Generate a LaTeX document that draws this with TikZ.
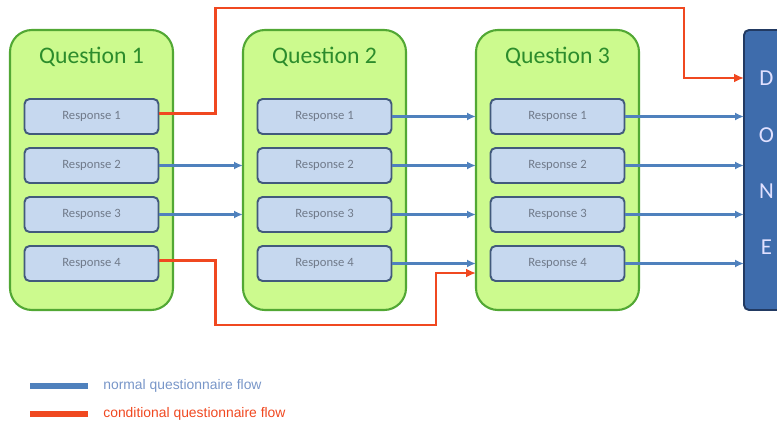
\documentclass[tikz,border=0pt]{standalone}
\usepackage{fontspec}
\setmainfont{Carlito}
\newfontfamily\keyfont{Liberation Sans}
\usetikzlibrary{arrows.meta,positioning}

\definecolor{qfill}{RGB}{204,250,142}
\definecolor{qborder}{RGB}{82,168,52}
\definecolor{qtext}{RGB}{44,140,44}
\definecolor{rfill}{RGB}{198,216,239}
\definecolor{rborder}{RGB}{66,90,124}
\definecolor{rtext}{RGB}{112,122,138}
\definecolor{flowblue}{RGB}{79,129,189}
\definecolor{keyblue}{RGB}{120,150,200}
\definecolor{condred}{RGB}{240,72,32}
\definecolor{donefill}{RGB}{62,108,172}
\definecolor{doneborder}{RGB}{34,58,98}

\begin{document}
\begin{tikzpicture}[
    node distance=0.28cm and 1.98cm,
    question/.style={draw=qborder, line width=1.2pt, fill=qfill, rounded corners=0.44cm,
      minimum width=3.26cm, minimum height=5.6cm, inner sep=0pt, outer sep=0pt},
    qtitle/.style={text=qtext, font=\fontsize{13.5}{15}\selectfont, inner sep=0pt},
    response/.style={draw=rborder, line width=1.1pt, fill=rfill, rounded corners=0.1cm,
      minimum width=2.68cm, minimum height=0.7cm, inner sep=0pt, outer sep=0pt,
      text=rtext, font=\fontsize{7.2}{8}\selectfont},
    donebox/.style={draw=doneborder, line width=1.1pt, fill=donefill, rounded corners=0.1cm,
      minimum width=0.9cm, minimum height=5.6cm, inner sep=0pt, outer sep=0pt},
    flow/.style={-{Latex[length=1.8mm,width=1.6mm]}, line width=1.5pt, draw=flowblue},
    cond/.style={-{Latex[length=2mm,width=1.8mm]}, line width=1.6pt, draw=condred},
    keybar/.style={line width=3.6pt},
    keytext/.style={font=\keyfont\fontsize{7.9}{9}\selectfont, inner sep=0pt, anchor=west}
  ]
    \useasboundingbox (0,0) rectangle (15.54,8.54);

    % question blocks
    \node[question] (q1) at (1.83,5.14) {};
    \node[question, right=1.4cm of q1] (q2) {};
    \node[question, right=1.4cm of q2] (q3) {};
    \node[donebox, right=2.1cm of q3] (done) {};
    \node[text=white!88!blue, font=\fontsize{13}{32}\selectfont, align=center]
      (donetext) at ([yshift=0.14cm]done.center) {D\\O\\N\\E};

    \node[qtitle] (q1title) at ([yshift=-0.54cm]q1.north) {Question 1};
    \node[qtitle] (q2title) at ([yshift=-0.54cm]q2.north) {Question 2};
    \node[qtitle] (q3title) at ([yshift=-0.54cm]q3.north) {Question 3};

    % responses
    \node[response, below=1.38cm of q1.north] (q1r1) {Response 1};
    \node[response, below=of q1r1] (q1r2) {Response 2};
    \node[response, below=of q1r2] (q1r3) {Response 3};
    \node[response, below=of q1r3] (q1r4) {Response 4};

    \node[response, right=of q1r1] (q2r1) {Response 1};
    \node[response, right=of q1r2] (q2r2) {Response 2};
    \node[response, right=of q1r3] (q2r3) {Response 3};
    \node[response, right=of q1r4] (q2r4) {Response 4};

    \node[response, right=of q2r1] (q3r1) {Response 1};
    \node[response, right=of q2r2] (q3r2) {Response 2};
    \node[response, right=of q2r3] (q3r3) {Response 3};
    \node[response, right=of q2r4] (q3r4) {Response 4};

    % normal flow
    \draw[flow] (q1r2.east) -- (q1r2.east -| q2.west);
    \draw[flow] (q1r3.east) -- (q1r3.east -| q2.west);
    \draw[flow] (q2r1.east) -- (q2r1.east -| q3.west);
    \draw[flow] (q2r2.east) -- (q2r2.east -| q3.west);
    \draw[flow] (q2r3.east) -- (q2r3.east -| q3.west);
    \draw[flow] (q2r4.east) -- (q2r4.east -| q3.west);
    \draw[flow] (q3r1.east) -- (q3r1.east -| done.west);
    \draw[flow] (q3r2.east) -- (q3r2.east -| done.west);
    \draw[flow] (q3r3.east) -- (q3r3.east -| done.west);
    \draw[flow] (q3r4.east) -- (q3r4.east -| done.west);

    % conditional flow
    \coordinate (overtop) at ([shift={(-1.2cm,0.44cm)}]done.north west);
    \coordinate (donein) at ([yshift=-0.96cm]done.north west);
    \coordinate (underbottom) at ([shift={(-0.8cm,-0.3cm)}]q3.south west);
    \draw[cond] ([yshift=0.06cm]q1r1.east) -- ++(1.14,0) |- (overtop) |- (donein);
    \draw[cond] ([yshift=0.06cm]q1r4.east) -- ++(1.14,0) |- (underbottom) |- ++(0.8,1.04);

    % key
    \node[keytext, text=keyblue] (normalkey) at (2.06,0.82) {normal questionnaire flow};
    \node[keytext, text=condred] (condkey) at (2.06,0.26) {conditional questionnaire flow};
    \draw[keybar, draw=flowblue] ([xshift=-0.3cm]normalkey.west) -- ++(-1.16,0);
    \draw[keybar, draw=condred] ([xshift=-0.3cm]condkey.west) -- ++(-1.16,0);
  \end{tikzpicture}
\end{document}
